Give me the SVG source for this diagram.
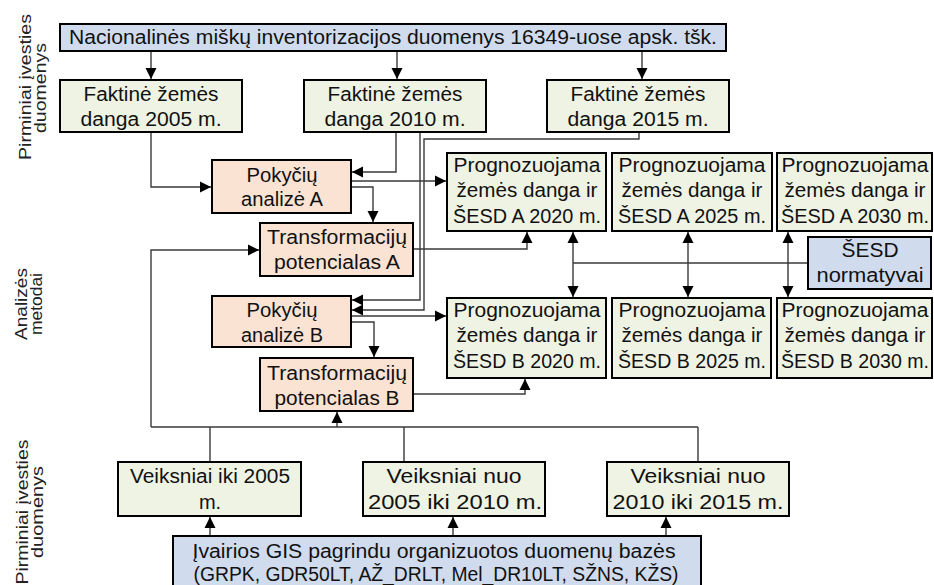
<svg xmlns="http://www.w3.org/2000/svg" width="934" height="585" viewBox="0 0 934 585">
  <style>
    text { font-family: "Liberation Sans", Arial, sans-serif; font-size: 20px; fill: #111; text-anchor: middle; }
    .side { font-size: 17px; fill: #222; }
    .box { stroke: #000; stroke-width: 2; }
    .blue { fill: #d0dcee; }
    .green { fill: #eff3e4; }
    .peach { fill: #fbe3d4; }
    .conn path { fill: none; stroke: #3a3a3a; stroke-width: 1.4; }
    .conn .arr { marker-end: url(#ah); }
    .conn .both { marker-start: url(#ah); marker-end: url(#ah); }
  </style>
  <defs>
    <marker id="ah" viewBox="0 0 10 10" refX="10" refY="5" markerWidth="11" markerHeight="12" markerUnits="userSpaceOnUse" orient="auto-start-reverse">
      <path d="M0,0 L10,5 L0,10 z" fill="#000"/>
    </marker>
  </defs>

  <rect width="934" height="585" fill="#fff"/>

  <!-- side captions -->
  <g id="lbl-inputs-top">
    <text class="side" transform="translate(31,87) rotate(-90)" textLength="146" lengthAdjust="spacingAndGlyphs">Pirminiai įvesties</text>
    <text class="side" transform="translate(46,88) rotate(-90)" textLength="90" lengthAdjust="spacingAndGlyphs">duomenys</text>
  </g>
  <g id="lbl-methods">
    <text class="side" transform="translate(27,304) rotate(-90)" textLength="72" lengthAdjust="spacingAndGlyphs">Analizės</text>
    <text class="side" transform="translate(42,304) rotate(-90)" textLength="62" lengthAdjust="spacingAndGlyphs">metodai</text>
  </g>
  <g id="lbl-inputs-bottom">
    <text class="side" transform="translate(28,512) rotate(-90)" textLength="145" lengthAdjust="spacingAndGlyphs">Pirminiai įvesties</text>
    <text class="side" transform="translate(43,512) rotate(-90)" textLength="92" lengthAdjust="spacingAndGlyphs">duomenys</text>
  </g>

  <!-- connectors -->
  <g id="connectors" class="conn">
    <path class="arr" d="M151,51 V79"/>
    <path class="arr" d="M397,51 V79"/>
    <path class="arr" d="M642,51 V79"/>
    <path class="arr" d="M151,132 V187 H211"/>
    <path class="arr" d="M396,132 V172 H352"/>
    <path class="arr" d="M420,132 V300 H352"/>
    <path class="arr" d="M639,132 V139 H424 V310 H352"/>
    <path class="arr" d="M351,181 H446"/>
    <path class="arr" d="M351,187 H373 V222"/>
    <path class="arr" d="M413,249 H527 V232"/>
    <path class="arr" d="M351,316 H446"/>
    <path class="arr" d="M351,322 H374 V357"/>
    <path class="arr" d="M413,394 H525 V379"/>
    <path d="M151,427 H698"/>
    <path class="arr" d="M151,427 V250 H259"/>
    <path class="arr" d="M337,427 V412"/>
    <path d="M210,461 V427"/>
    <path d="M404,461 V427"/>
    <path d="M698,461 V427"/>
    <path class="arr" d="M210,536 V517"/>
    <path class="arr" d="M453,536 V517"/>
    <path class="arr" d="M666,536 V517"/>
    <path class="both" d="M573,232 V297"/>
    <path class="both" d="M688,232 V297"/>
    <path class="both" d="M788,232 V297"/>
    <path d="M573,263 H808"/>
  </g>

  <!-- source: national forest inventory -->
  <g id="nmi">
    <rect class="box blue" x="60" y="24" width="666" height="27"/>
    <text x="393" y="44" textLength="648" lengthAdjust="spacingAndGlyphs">Nacionalinės miškų inventorizacijos duomenys 16349-uose apsk. tšk.</text>
  </g>

  <!-- actual land cover -->
  <g id="fact-2005">
    <rect class="box green" x="60" y="80" width="182" height="52"/>
    <text x="151" y="101" textLength="135" lengthAdjust="spacingAndGlyphs">Faktinė žemės</text>
    <text x="151" y="126" textLength="141" lengthAdjust="spacingAndGlyphs">danga 2005 m.</text>
  </g>
  <g id="fact-2010">
    <rect class="box green" x="304" y="80" width="182" height="52"/>
    <text x="395" y="101" textLength="135" lengthAdjust="spacingAndGlyphs">Faktinė žemės</text>
    <text x="395" y="126" textLength="141" lengthAdjust="spacingAndGlyphs">danga 2010 m.</text>
  </g>
  <g id="fact-2015">
    <rect class="box green" x="547" y="80" width="182" height="52"/>
    <text x="638" y="101" textLength="135" lengthAdjust="spacingAndGlyphs">Faktinė žemės</text>
    <text x="638" y="126" textLength="141" lengthAdjust="spacingAndGlyphs">danga 2015 m.</text>
  </g>

  <!-- analysis methods -->
  <g id="change-a">
    <rect class="box peach" x="212" y="160" width="139" height="53"/>
    <text x="282" y="182" textLength="71" lengthAdjust="spacingAndGlyphs">Pokyčių</text>
    <text x="282" y="206" textLength="82" lengthAdjust="spacingAndGlyphs">analizė A</text>
  </g>
  <g id="transform-a">
    <rect class="box peach" x="260" y="223" width="153" height="53"/>
    <text x="337" y="244" textLength="140" lengthAdjust="spacingAndGlyphs">Transformacijų</text>
    <text x="337" y="269" textLength="126" lengthAdjust="spacingAndGlyphs">potencialas A</text>
  </g>
  <g id="change-b">
    <rect class="box peach" x="212" y="296" width="139" height="51"/>
    <text x="282" y="317" textLength="71" lengthAdjust="spacingAndGlyphs">Pokyčių</text>
    <text x="282" y="342" textLength="82" lengthAdjust="spacingAndGlyphs">analizė B</text>
  </g>
  <g id="transform-b">
    <rect class="box peach" x="260" y="358" width="153" height="53"/>
    <text x="337" y="380" textLength="140" lengthAdjust="spacingAndGlyphs">Transformacijų</text>
    <text x="337" y="405" textLength="125" lengthAdjust="spacingAndGlyphs">potencialas B</text>
  </g>

  <!-- forecasts, scenario A -->
  <g id="forecast-a-2020">
    <rect class="box green" x="447" y="153" width="159" height="78"/>
    <text x="527" y="172" textLength="147" lengthAdjust="spacingAndGlyphs">Prognozuojama</text>
    <text x="527" y="197" textLength="141" lengthAdjust="spacingAndGlyphs">žemės danga ir</text>
    <text x="527" y="223" textLength="148" lengthAdjust="spacingAndGlyphs">ŠESD A 2020 m.</text>
  </g>
  <g id="forecast-a-2025">
    <rect class="box green" x="612" y="153" width="160" height="78"/>
    <text x="692" y="172" textLength="147" lengthAdjust="spacingAndGlyphs">Prognozuojama</text>
    <text x="692" y="197" textLength="141" lengthAdjust="spacingAndGlyphs">žemės danga ir</text>
    <text x="692" y="223" textLength="148" lengthAdjust="spacingAndGlyphs">ŠESD A 2025 m.</text>
  </g>
  <g id="forecast-a-2030">
    <rect class="box green" x="777" y="153" width="155" height="78"/>
    <text x="855" y="172" textLength="147" lengthAdjust="spacingAndGlyphs">Prognozuojama</text>
    <text x="855" y="197" textLength="141" lengthAdjust="spacingAndGlyphs">žemės danga ir</text>
    <text x="855" y="223" textLength="148" lengthAdjust="spacingAndGlyphs">ŠESD A 2030 m.</text>
  </g>

  <!-- GHG norms -->
  <g id="ghg-norms">
    <rect class="box blue" x="808" y="237" width="123" height="52"/>
    <text x="870" y="257" textLength="57" lengthAdjust="spacingAndGlyphs">ŠESD</text>
    <text x="870" y="282" textLength="107" lengthAdjust="spacingAndGlyphs">normatyvai</text>
  </g>

  <!-- forecasts, scenario B -->
  <g id="forecast-b-2020">
    <rect class="box green" x="447" y="298" width="159" height="80"/>
    <text x="527" y="317" textLength="147" lengthAdjust="spacingAndGlyphs">Prognozuojama</text>
    <text x="527" y="342" textLength="141" lengthAdjust="spacingAndGlyphs">žemės danga ir</text>
    <text x="527" y="368" textLength="148" lengthAdjust="spacingAndGlyphs">ŠESD B 2020 m.</text>
  </g>
  <g id="forecast-b-2025">
    <rect class="box green" x="612" y="298" width="159" height="80"/>
    <text x="692" y="317" textLength="147" lengthAdjust="spacingAndGlyphs">Prognozuojama</text>
    <text x="692" y="342" textLength="141" lengthAdjust="spacingAndGlyphs">žemės danga ir</text>
    <text x="692" y="368" textLength="148" lengthAdjust="spacingAndGlyphs">ŠESD B 2025 m.</text>
  </g>
  <g id="forecast-b-2030">
    <rect class="box green" x="777" y="298" width="155" height="80"/>
    <text x="855" y="317" textLength="147" lengthAdjust="spacingAndGlyphs">Prognozuojama</text>
    <text x="855" y="342" textLength="141" lengthAdjust="spacingAndGlyphs">žemės danga ir</text>
    <text x="855" y="368" textLength="148" lengthAdjust="spacingAndGlyphs">ŠESD B 2030 m.</text>
  </g>

  <!-- driving factors -->
  <g id="factors-2005">
    <rect class="box green" x="118" y="462" width="183" height="54"/>
    <text x="210" y="483" textLength="160" lengthAdjust="spacingAndGlyphs">Veiksniai iki 2005</text>
    <text x="210" y="509">m.</text>
  </g>
  <g id="factors-2010">
    <rect class="box green" x="363" y="462" width="182" height="54"/>
    <text x="454" y="483" textLength="135" lengthAdjust="spacingAndGlyphs">Veiksniai nuo</text>
    <text x="455" y="509" textLength="174" lengthAdjust="spacingAndGlyphs">2005 iki 2010 m.</text>
  </g>
  <g id="factors-2015">
    <rect class="box green" x="607" y="462" width="182" height="54"/>
    <text x="698" y="483" textLength="135" lengthAdjust="spacingAndGlyphs">Veiksniai nuo</text>
    <text x="698" y="509" textLength="171" lengthAdjust="spacingAndGlyphs">2010 iki 2015 m.</text>
  </g>

  <!-- GIS databases -->
  <g id="gis-db">
    <rect class="box blue" x="173" y="536" width="528" height="54"/>
    <text x="434" y="558" textLength="483" lengthAdjust="spacingAndGlyphs">Įvairios GIS pagrindu organizuotos duomenų bazės</text>
    <text x="436" y="581" textLength="485" lengthAdjust="spacingAndGlyphs">(GRPK, GDR50LT, AŽ_DRLT, Mel_DR10LT, SŽNS, KŽS)</text>
  </g>
</svg>
